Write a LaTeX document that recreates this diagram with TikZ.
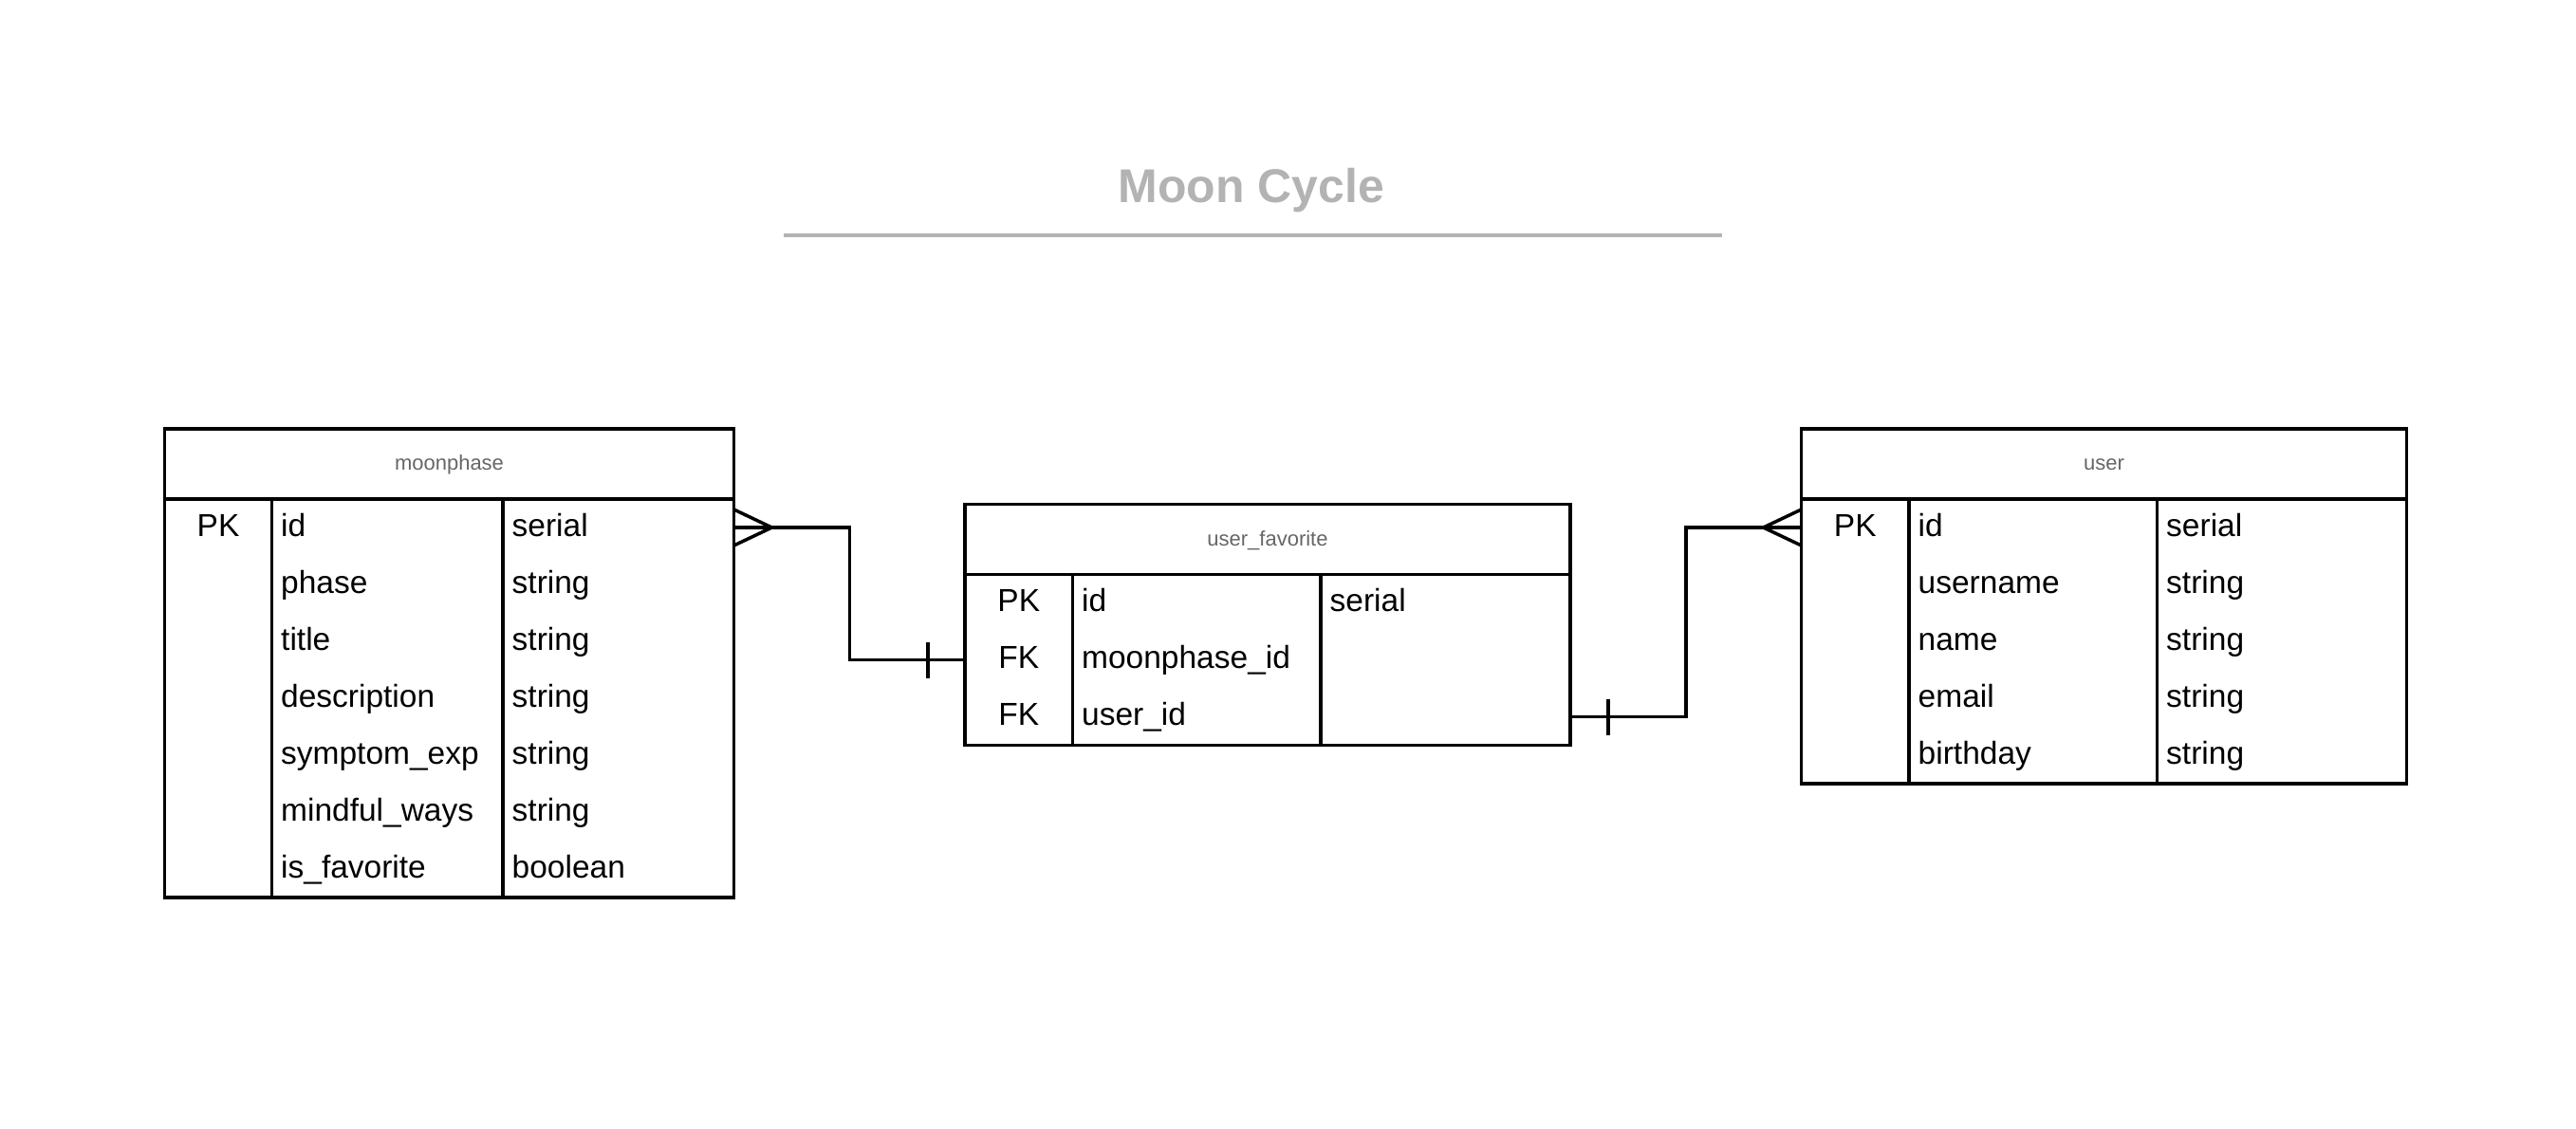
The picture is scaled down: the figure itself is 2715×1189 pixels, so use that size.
\documentclass[tikz,border=0pt]{standalone}
\usepackage{fontspec}
\setmainfont{Liberation Sans}
\usetikzlibrary{calc}
\definecolor{titlegray}{RGB}{179,179,179}
\definecolor{headgray}{RGB}{102,102,102}

% Frame, header rule, column rules and one invisible box per row.
% #1 name, #2 x0, #3 x1, #4 x2, #5 x3, #6 top, #7 rows, #8 title
\newcommand{\ertable}[8]{%
  \pgfmathsetmacro{\tw}{#5-#2}%
  \pgfmathsetmacro{\tht}{74+60*#7}%
  \node[tablebox, minimum width=\tw pt, minimum height=\tht pt, anchor=north west] (#1) at (#2,#6) {};
  \draw[tablerule] (#2,#6+74) -- (#5,#6+74);
  \draw[colrule] (#3,#6+74) -- (#3,#6+\tht) (#4,#6+74) -- (#4,#6+\tht);
  \node[headtext] (#1-title) at ({(#2+#5)/2},#6+43.5) {#8};
  \foreach \r in {1,...,#7} {
    \node[rowbox, minimum width=\tw pt, anchor=north west] (#1-r\r) at (#2,#6+14+60*\r) {};
  }
}

% Key / column name / type text of each row.
% #1 name, #2 x0, #3 x1, #4 x2, #5 top, #6 rows as key/name/type
\newcommand{\ercells}[6]{%
  \foreach [count=\i] \k/\n/\t in {#6} {
    \node[keycell] (#1-k\i) at ({(#2+#3)/2},#5+74+60*\i-30+9) {\k};
    \node[cell] (#1-n\i) at (#3+9.5,#5+74+60*\i-30+9) {\n};
    \node[cell] (#1-t\i) at (#4+9.5,#5+74+60*\i-30+9) {\t};
  }
}

\begin{document}
\begin{tikzpicture}[x=1pt,y=-1pt,
  tablebox/.style={draw=black, line width=3.7pt, inner sep=0pt, outer sep=0pt},
  tablerule/.style={draw=black, line width=3.7pt},
  colrule/.style={draw=black, line width=3.3pt},
  rowbox/.style={inner sep=0pt, outer sep=0pt, minimum height=60pt},
  cell/.style={anchor=base west, inner sep=0pt, font=\fontsize{33.5}{40}\selectfont},
  keycell/.style={anchor=base, inner sep=0pt, font=\fontsize{33.5}{40}\selectfont},
  headtext/.style={anchor=base, inner sep=0pt, text=headgray, font=\fontsize{22}{26}\selectfont},
  link/.style={draw=black, line width=3.5pt},
]
\useasboundingbox (0,0) rectangle (2715,1189);

% Title with its rule
\node[anchor=base, inner sep=0pt, text=titlegray, font=\bfseries\fontsize{50}{60}\selectfont] (title) at (1319,213) {Moon Cycle};
\draw[titlegray, line width=4pt] (826,247.5) -- (1815,247.5);

% Tables
\ertable{moonphase}{173.5}{286.5}{530}{773.5}{452}{7}{moonphase}
\ercells{moonphase}{173.5}{286.5}{530}{452}{PK/id/serial, /phase/string, /title/string, /description/string, /symptom\_exp/string, /mindful\_ways/string, /is\_favorite/boolean}

\ertable{fav}{1017}{1130.5}{1392}{1655}{531.6}{3}{user\_favorite}
\ercells{fav}{1017}{1130.5}{1392}{531.6}{PK/id/serial, FK/moonphase\_id/, FK/user\_id/}

\ertable{user}{1898.5}{2012}{2273.5}{2536.5}{452}{5}{user}
\ercells{user}{1898.5}{2012}{2273.5}{452}{PK/id/serial, /username/string, /name/string, /email/string, /birthday/string}

% moonphase (many) -- user_favorite (one)
\draw[link] (moonphase-r1.east) -| ($(moonphase-r1.east)!0.5!(fav-r2.west)$) |- (fav-r2.west);
\draw[link] ($(moonphase-r1.east)+(0,-19)$) -- ($(moonphase-r1.east)+(40,0)$) -- ($(moonphase-r1.east)+(0,19)$);
\draw[link] ($(fav-r2.west)+(-39,-19)$) -- ($(fav-r2.west)+(-39,19)$);

% user_favorite (one) -- user (many)
\draw[link] (fav-r3.east) -| ($(fav-r3.east)!0.5!(user-r1.west)$) |- (user-r1.west);
\draw[link] ($(fav-r3.east)+(40,-19)$) -- ($(fav-r3.east)+(40,19)$);
\draw[link] ($(user-r1.west)+(0,-19)$) -- ($(user-r1.west)+(-40,0)$) -- ($(user-r1.west)+(0,19)$);
\end{tikzpicture}
\end{document}
